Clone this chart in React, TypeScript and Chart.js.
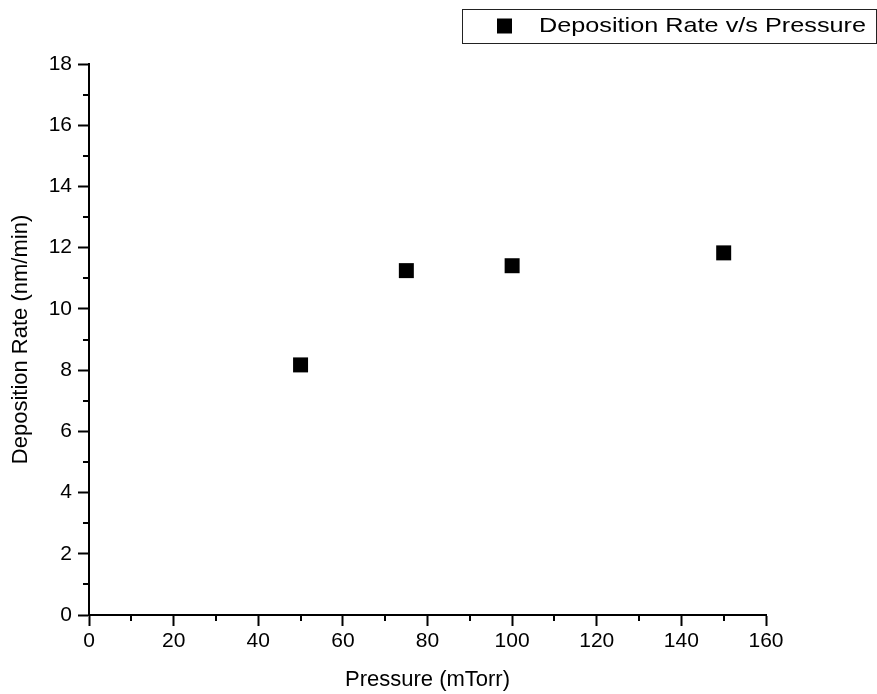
import React, { useEffect, useRef } from 'react';
import { Chart, registerables } from 'chart.js';

Chart.register(...registerables);

// ---- data ----
const seriesLabel = 'Deposition Rate v/s Pressure';
const pressure = [50, 75, 100, 150];
const depositionRate = [8.17, 11.25, 11.41, 11.83];
const xTitle = 'Pressure (mTorr)';
const yTitle = 'Deposition Rate (nm/min)';
const xMin = 0;
const xMax = 160;
const xStep = 20;
const yMin = 0;
const yMax = 18;
const yStep = 2;

const FONT = '"Liberation Sans", Arial, Helvetica, sans-serif';

const minorTicks = {
  id: 'minorTicks',
  afterDraw(chart: any) {
    const { ctx, chartArea, scales } = chart;
    ctx.save();
    ctx.strokeStyle = '#000';
    ctx.lineWidth = 2;
    ctx.beginPath();
    const xs = scales.x;
    const xt = xs.ticks;
    for (let i = 0; i < xt.length - 1; i++) {
      const v = (xt[i].value + xt[i + 1].value) / 2;
      const p = Math.round(xs.getPixelForValue(v));
      ctx.moveTo(p, chartArea.bottom);
      ctx.lineTo(p, chartArea.bottom + 6);
    }
    const ys = scales.y;
    const yt = ys.ticks;
    for (let i = 0; i < yt.length - 1; i++) {
      const v = (yt[i].value + yt[i + 1].value) / 2;
      const p = Math.round(ys.getPixelForValue(v));
      ctx.moveTo(chartArea.left, p);
      ctx.lineTo(chartArea.left - 6, p);
    }
    ctx.stroke();
    ctx.restore();
  },
};

const boxLegend = {
  id: 'boxLegend',
  afterDraw(chart: any) {
    const ctx = chart.ctx;
    const ds = chart.data.datasets[0];
    ctx.save();
    ctx.fillStyle = '#fff';
    ctx.fillRect(462.5, 9.5, 414, 34);
    ctx.strokeStyle = '#222';
    ctx.lineWidth = 1;
    ctx.strokeRect(462.5, 9.5, 414, 34);
    ctx.fillStyle = ds.backgroundColor;
    ctx.fillRect(497, 18.5, 15, 15);
    ctx.font = `21px ${FONT}`;
    ctx.textBaseline = 'alphabetic';
    ctx.textAlign = 'left';
    ctx.fillStyle = '#000';
    const text = ds.label;
    const w = ctx.measureText(text).width;
    const sx = 327 / w;
    ctx.translate(539, 31.7);
    ctx.scale(sx, 1);
    ctx.fillText(text, 0, 0);
    ctx.restore();
  },
};

export default function App() {
  const ref = useRef<HTMLCanvasElement | null>(null);

  useEffect(() => {
    if (!ref.current) return;
    const chart = new Chart(ref.current, {
      type: 'scatter',
      data: {
        datasets: [
          {
            label: seriesLabel,
            data: pressure.map((x, i) => ({ x, y: depositionRate[i] })),
            backgroundColor: '#000',
            borderColor: '#000',
            borderWidth: 0,
            pointStyle: 'rect',
            pointRadius: 10.6,
            pointHoverRadius: 10.6,
          },
        ],
      },
      options: {
        responsive: false,
        animation: false,
        devicePixelRatio: 1,
        layout: { padding: { left: 0, top: 64, right: 111, bottom: 0 } },
        plugins: {
          legend: { display: false },
          tooltip: { enabled: false },
        },
        scales: {
          x: {
            type: 'linear',
            min: xMin,
            max: xMax,
            afterFit: (s: any) => {
              s.height = 79;
            },
            ticks: {
              stepSize: xStep,
              color: '#000',
              padding: 3,
              maxRotation: 0,
              font: { family: FONT, size: 21 },
            },
            grid: {
              drawOnChartArea: false,
              drawTicks: true,
              tickLength: 11,
              tickWidth: 2,
              tickColor: '#000',
            },
            border: { display: true, color: '#000', width: 2 },
            title: {
              display: true,
              text: xTitle,
              color: '#000',
              font: { family: FONT, size: 22 },
              padding: { top: 0, bottom: 1 },
            },
          },
          y: {
            type: 'linear',
            min: yMin,
            max: yMax,
            afterFit: (s: any) => {
              s.width = 89;
            },
            ticks: {
              stepSize: yStep,
              color: '#000',
              padding: 6,
              font: { family: FONT, size: 21 },
            },
            grid: {
              drawOnChartArea: false,
              drawTicks: true,
              tickLength: 11,
              tickWidth: 2,
              tickColor: '#000',
            },
            border: { display: true, color: '#000', width: 2 },
            title: {
              display: true,
              text: yTitle,
              color: '#000',
              font: { family: FONT, size: 22 },
              padding: { top: 7.5, bottom: 0 },
            },
          },
        },
      },
      plugins: [minorTicks, boxLegend],
    });
    return () => chart.destroy();
  }, []);

  return (
    <div style={{ position: 'fixed', left: 0, top: 0, width: 877, height: 694, background: '#fff' }}>
      <canvas ref={ref} width={877} height={694} style={{ display: 'block', width: 877, height: 694 }} />
    </div>
  );
}
